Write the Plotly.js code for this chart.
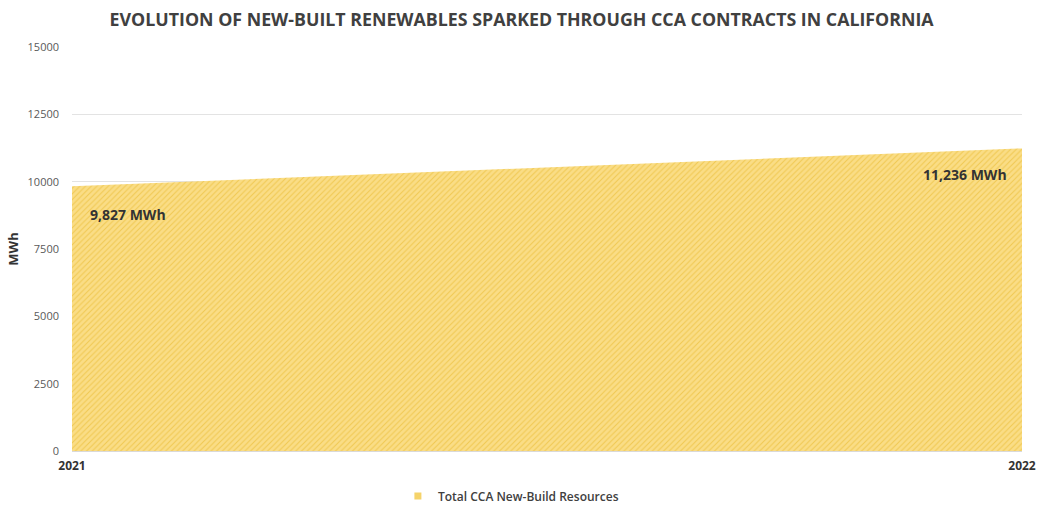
<!DOCTYPE html>
<html>
<head>
<meta charset="utf-8">
<script src="https://cdn.plot.ly/plotly-3.0.1.min.js"></script>
<style>html,body{margin:0;padding:0;background:#fff;}#chart{width:1037px;height:506px;}</style>
</head>
<body>
<div id="chart"></div>
<script>
const years = [2021, 2022];
const values = [9827, 11236];
const seriesName = 'Total CCA New-Build Resources';
const yTicks = [0, 2500, 5000, 7500, 10000, 12500, 15000];

const fmt = v => v.toLocaleString('en-US') + ' MWh';

const area = {
  x: years,
  y: values,
  type: 'scatter',
  mode: 'none',
  fill: 'tozeroy',
  name: seriesName,
  showlegend: false,
  fillcolor: '#F9DA7C',
  fillpattern: {shape: '/', bgcolor: '#FADD86', fgcolor: '#F0C852', size: 4, solidity: 0.25},
  hoverinfo: 'x+y'
};

const legendEntry = {
  x: [null], y: [null],
  type: 'scatter',
  mode: 'markers',
  name: seriesName,
  marker: {symbol: 'square', size: 7, color: '#F5D36A'},
  showlegend: true
};

const layout = {
  width: 1037, height: 506,
  margin: {l: 72, r: 15, t: 47, b: 55},
  paper_bgcolor: '#ffffff',
  plot_bgcolor: '#ffffff',
  title: {
    text: 'EVOLUTION OF NEW-BUILT RENEWABLES SPARKED THROUGH CCA CONTRACTS IN CALIFORNIA',
    font: {family: 'Open Sans', size: 17.8, color: '#404040', weight: 700},
    x: 0.503, xanchor: 'center', y: 0.96, yanchor: 'middle'
  },
  xaxis: {
    range: [years[0], years[1]],
    tickvals: years,
    ticktext: years.map(String),
    showgrid: false,
    zeroline: false,
    showline: true,
    linecolor: '#d9d9d9',
    ticks: '',
    tickfont: {family: 'Open Sans', size: 12, color: '#333333', weight: 700},
    ticklabelstandoff: 4
  },
  yaxis: {
    range: [0, 15000],
    tickvals: yTicks,
    ticktext: yTicks.map(String),
    showgrid: true,
    gridcolor: '#e3e3e3',
    zeroline: false,
    showline: false,
    ticks: '',
    ticklabelstandoff: 12,
    tickfont: {family: 'Open Sans', size: 11, color: '#595959'},
    title: {text: 'MWh', font: {family: 'Open Sans', size: 13, color: '#333333', weight: 700}, standoff: 5}
  },
  showlegend: true,
  legend: {
    orientation: 'h', x: 0.462, xanchor: 'center', xref: 'paper',
    y: 0.02, yanchor: 'middle', yref: 'container',
    font: {family: 'Open Sans', size: 12, color: '#404040', weight: 600},
    itemwidth: 30
  },
  annotations: [
    {x: years[0], y: values[0], xref: 'x', yref: 'y', text: fmt(values[0]), showarrow: false,
     xanchor: 'left', yanchor: 'middle', xshift: 16, yshift: -28,
     font: {family: 'Open Sans', size: 14, color: '#333333', weight: 700}},
    {x: years[1], y: values[1], xref: 'x', yref: 'y', text: fmt(values[1]), showarrow: false,
     xanchor: 'right', yanchor: 'middle', xshift: -13, yshift: -26,
     font: {family: 'Open Sans', size: 14, color: '#333333', weight: 700}}
  ]
};

Plotly.newPlot('chart', [area, legendEntry], layout, {displayModeBar: false, staticPlot: true});
</script>
</body>
</html>
